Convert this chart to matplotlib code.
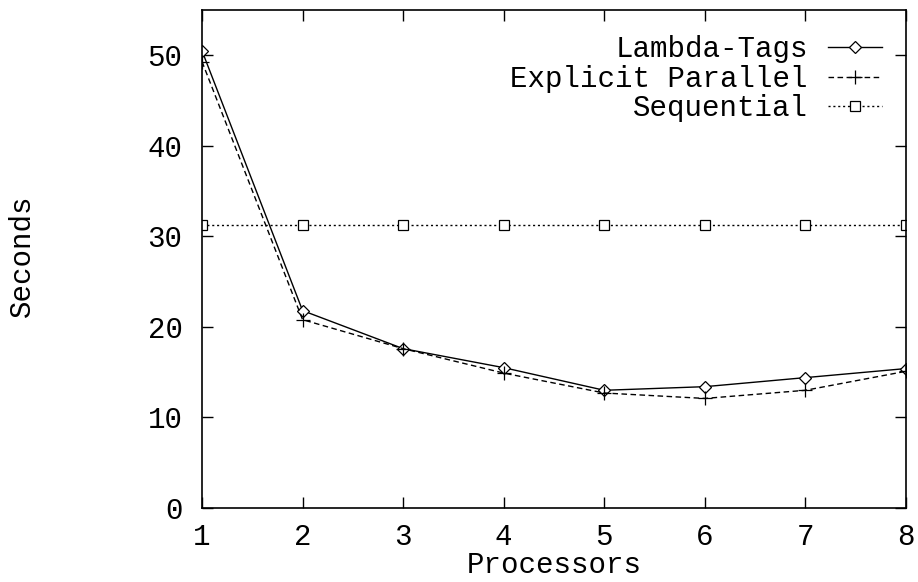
import matplotlib
matplotlib.use("Agg")
import matplotlib.pyplot as plt

processors = [1, 2, 3, 4, 5, 6, 7, 8]
lambda_tags = [50.5, 21.8, 17.6, 15.5, 13.0, 13.4, 14.4, 15.4]
explicit_parallel = [49.3, 20.8, 17.6, 14.9, 12.7, 12.1, 13.0, 15.1]
sequential = [31.2, 31.2, 31.2, 31.2, 31.2, 31.2, 31.2, 31.2]
yticks = [0, 10, 20, 30, 40, 50]

plt.rcParams['font.family'] = ['Liberation Mono', 'DejaVu Sans Mono']
plt.rcParams['font.size'] = 21

fig = plt.figure(figsize=(9.18, 5.82), dpi=100)
ax = fig.add_axes([202/918, 1 - 508/582, (906 - 202)/918, (508 - 10)/582])

ax.plot(processors, lambda_tags, color='black', lw=1.0, ls='-',
        marker='D', markersize=6, markerfacecolor='white', markeredgewidth=0.9,
        label='Lambda-Tags')
ax.plot(processors, explicit_parallel, color='black', lw=1.0, ls=(0, (4, 2.5)),
        marker='+', markersize=10, markeredgewidth=0.9,
        label='Explicit Parallel')
ax.plot(processors, sequential, color='black', lw=1.0, ls=(0, (1.5, 2)),
        marker='s', markersize=7, markerfacecolor='white', markeredgewidth=0.9,
        label='Sequential')

ax.set_xlim(1, 8)
ax.set_ylim(0, 55)
ax.set_xticks(processors)
ax.set_yticks(yticks)
ax.tick_params(direction='in', top=True, right=True, length=8, width=1)
ax.tick_params(axis='y', pad=14)
ax.tick_params(axis='x', pad=11)
for s in ax.spines.values():
    s.set_linewidth(1.2)

ax.set_xlabel('Processors', labelpad=0)
fig.text(22/918, 1 - 256/582, 'Seconds', rotation=90, ha='center', va='center')

leg = ax.legend(loc='upper right', bbox_to_anchor=(0.966, 0.949), frameon=False,
                markerfirst=False, handlelength=1.85, handletextpad=0.7,
                labelspacing=0.05, borderpad=0, borderaxespad=0)
for t in leg.get_texts():
    t.set_ha('right')

fig.savefig('out.png', dpi=100)
